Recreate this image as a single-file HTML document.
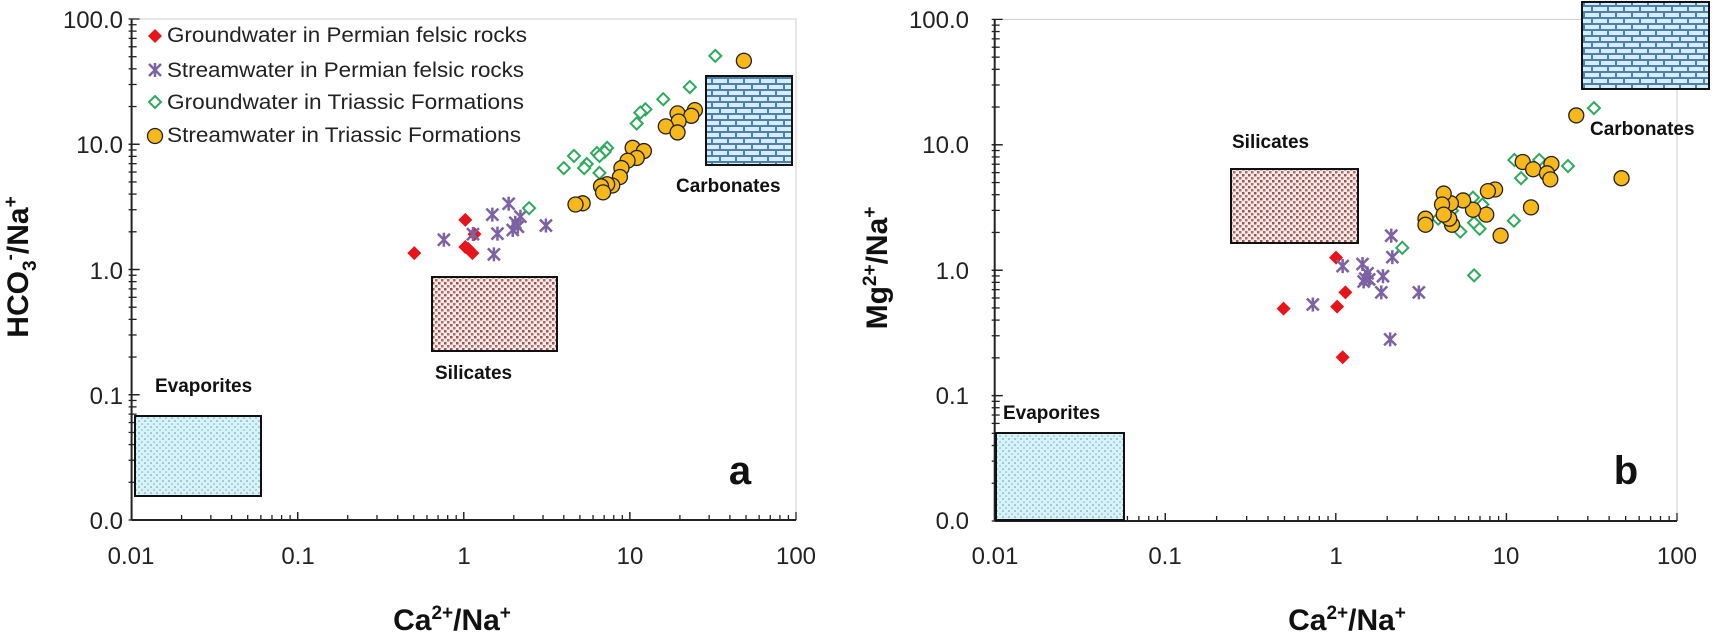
<!DOCTYPE html>
<html><head><meta charset="utf-8"><style>
html,body{margin:0;padding:0;background:#fff;}
svg{display:block;}
text{font-family:"Liberation Sans",Arial,sans-serif;}
</style></head><body>
<svg id="s" width="1716" height="635" viewBox="0 0 1716 635" xmlns="http://www.w3.org/2000/svg">
<defs>
<pattern id="brick" width="16" height="12" patternUnits="userSpaceOnUse">
<rect width="16" height="12" fill="#4a7fae"/>
<rect x="1" y="1" width="14" height="4" fill="#d6ecf8"/>
<rect x="-7" y="7" width="14" height="4" fill="#d6ecf8"/>
<rect x="9" y="7" width="14" height="4" fill="#d6ecf8"/>
</pattern>
<pattern id="sil" width="6" height="6" patternUnits="userSpaceOnUse">
<rect width="6" height="6" fill="#f6ecec"/>
<rect x="0" y="0" width="2.5" height="2.5" fill="#a0524f"/>
<rect x="3" y="3" width="2.5" height="2.5" fill="#b06a66"/>
</pattern>
<pattern id="eva" width="6" height="6" patternUnits="userSpaceOnUse">
<rect width="6" height="6" fill="#d8f2fa"/>
<circle cx="1" cy="1" r="0.8" fill="#5a9aa8"/>
<circle cx="4" cy="4" r="0.8" fill="#7ab0bc"/>
</pattern>
</defs>
<g id="g"></g>
<g font-size="24" fill="#222" text-anchor="end">
<text x="123" y="28">100.0</text><text x="123" y="153">10.0</text><text x="123" y="279">1.0</text><text x="123" y="404">0.1</text><text x="123" y="529">0.0</text>
<text x="969" y="28">100.0</text><text x="969" y="153">10.0</text><text x="969" y="279">1.0</text><text x="969" y="404">0.1</text><text x="969" y="529">0.0</text>
</g>
<g font-size="24" fill="#222" text-anchor="middle">
<text x="131" y="564">0.01</text><text x="298" y="564">0.1</text><text x="464" y="564">1</text><text x="630" y="564">10</text><text x="796" y="564">100</text>
<text x="995" y="564">0.01</text><text x="1165" y="564">0.1</text><text x="1336" y="564">1</text><text x="1506" y="564">10</text><text x="1677" y="564">100</text>
</g>
<g font-size="30" font-weight="bold" fill="#111" text-anchor="middle">
<text x="452" y="630">Ca<tspan font-size="19" dy="-11">2+</tspan><tspan dy="11">/Na</tspan><tspan font-size="19" dy="-11">+</tspan></text>
<text x="1347" y="630">Ca<tspan font-size="19" dy="-11">2+</tspan><tspan dy="11">/Na</tspan><tspan font-size="19" dy="-11">+</tspan></text>
<text transform="translate(28,267) rotate(-90)">HCO<tspan font-size="19" dy="8">3</tspan><tspan font-size="19" dy="-20">-</tspan><tspan dy="12">/Na</tspan><tspan font-size="19" dy="-11">+</tspan></text>
<text transform="translate(887,268) rotate(-90)">Mg<tspan font-size="19" dy="-11">2+</tspan><tspan dy="11">/Na</tspan><tspan font-size="19" dy="-11">+</tspan></text>
</g>
<g font-size="19" font-weight="bold" fill="#111">
<text x="155" y="392">Evaporites</text>
<text x="435" y="379">Silicates</text>
<text x="676" y="192">Carbonates</text>
<text x="1003" y="419">Evaporites</text>
<text x="1232" y="148">Silicates</text>
<text x="1590" y="135">Carbonates</text>
</g>
<g font-size="40" font-weight="bold" fill="#111" text-anchor="middle">
<text x="740" y="484">a</text><text x="1626" y="484">b</text>
</g>
<g font-size="21" fill="#222">
<text x="167" y="42" textLength="360" lengthAdjust="spacingAndGlyphs">Groundwater in Permian felsic rocks</text>
<text x="167" y="77" textLength="357" lengthAdjust="spacingAndGlyphs">Streamwater in Permian felsic rocks</text>
<text x="167" y="109" textLength="357" lengthAdjust="spacingAndGlyphs">Groundwater in Triassic Formations</text>
<text x="167" y="142" textLength="354" lengthAdjust="spacingAndGlyphs">Streamwater in Triassic Formations</text>
</g>
</svg>
<script>
const g=document.getElementById('g');const NS='http://www.w3.org/2000/svg';
function el(t,a){const e=document.createElementNS(NS,t);for(const k in a)e.setAttribute(k,a[k]);g.appendChild(e);return e;}
function axes(x0,x1,y0,y1){
 el('rect',{x:x0,y:y0,width:x1-x0,height:y1-y0,fill:'none',stroke:'#ccc','stroke-width':1});
 el('line',{x1:x0,y1:y0,x2:x0,y2:y1,stroke:'#222','stroke-width':2});
 el('line',{x1:x0,y1:y1,x2:x1,y2:y1,stroke:'#222','stroke-width':2});
 const dx=(x1-x0)/4,dy=(y1-y0)/4;
 for(let d=0;d<4;d++)for(let m=1;m<=10;m++){
  const lx=x0+dx*(d+Math.log10(m));el('line',{x1:lx,y1:y1,x2:lx,y2:y1-(m==1||m==10?8:5),stroke:'#222','stroke-width':1.3});
  const ly=y1-dy*(d+Math.log10(m));el('line',{x1:x0-3,y1:ly,x2:x0+(m==1||m==10?8:5),y2:ly,stroke:'#222','stroke-width':1.3});
 }
}
function box(x,y,x2,y2,f){el('rect',{x:x,y:y,width:x2-x,height:y2-y,fill:'url(#'+f+')',stroke:'#111','stroke-width':2});}
function red(x,y){el('polygon',{points:`${x},${y-7} ${x+7},${y} ${x},${y+7} ${x-7},${y}`,fill:'#e8141c'});}
function grn(x,y){el('polygon',{points:`${x},${y-6} ${x+6},${y} ${x},${y+6} ${x-6},${y}`,fill:'#fff',stroke:'#2eaa5c','stroke-width':2});}
function orn(x,y){el('circle',{cx:x,cy:y,r:7.5,fill:'#f6b81a',stroke:'#222','stroke-width':1.3});}
function pur(x,y){const c='#7b62a3',s=6;
 el('line',{x1:x-s,y1:y-s,x2:x+s,y2:y+s,stroke:c,'stroke-width':2.5});
 el('line',{x1:x-s,y1:y+s,x2:x+s,y2:y-s,stroke:c,'stroke-width':2.5});
 el('line',{x1:x,y1:y-s-1,x2:x,y2:y+s+1,stroke:c,'stroke-width':2.5});}
axes(131.6,796,19,520);
axes(994.7,1677,19.4,521);
box(432,277,557,351,'sil');box(135,416,261,496,'eva');box(706,76,792,165,'brick');
box(1231,169,1358,243,'sil');box(996,433,1124,520,'eva');box(1582,2,1709,89,'brick');
red(155,36);pur(155,70);grn(155,102);orn(155,136);
const L=(a,f)=>a.forEach(p=>f(p[0]*800/1568,p[1]*635/1568));
const R=(a,f)=>a.forEach(p=>f(850+p[0]*866/1568,p[1]*635/1568));
L([[812,625],[912,543],[930,578],[912,610],[926,625],[918,615]],red);
L([[870,592],[965,530],[997,503],[1020,535],[1015,560],[1005,568],[1070,557],[975,577],[968,628],[927,578],[1010,550]],pur);
L([[1402,138],[1352,215],[1300,245],[1265,270],[1255,278],[1248,305],[1190,365],[1185,375],[1170,378],[1175,385],[1150,405],[1125,385],[1105,415],[1175,427],[1037,514],[1145,415]],grn);
L([[1458,150],[1328,280],[1362,272],[1355,286],[1330,300],[1305,312],[1328,327],[1240,365],[1262,373],[1248,390],[1230,397],[1218,415],[1215,437],[1200,458],[1190,455],[1178,460],[1182,475],[1142,502],[1128,505]],orn);
R([[785,762],[882,757],[880,636],[897,722],[892,882]],red);
R([[838,752],[892,657],[928,652],[937,675],[940,690],[933,688],[965,682],[962,722],[980,582],[982,635],[1030,722],[978,838],[930,695]],pur);
R([[1347,267],[1300,410],[1248,395],[1203,395],[1215,440],[1202,545],[1130,680],[1128,488],[1130,550],[1140,565],[1105,572],[1065,540],[1000,612],[1145,505],[1090,520]],grn);
R([[1315,285],[1397,440],[1218,400],[1237,418],[1270,405],[1262,428],[1268,443],[1233,512],[1178,582],[1168,468],[1155,472],[1152,530],[1128,518],[1110,495],[1088,502],[1090,555],[1085,540],[1075,478],[1072,505],[1042,540],[1042,555],[1075,530]],orn);
</script>
</body></html>
